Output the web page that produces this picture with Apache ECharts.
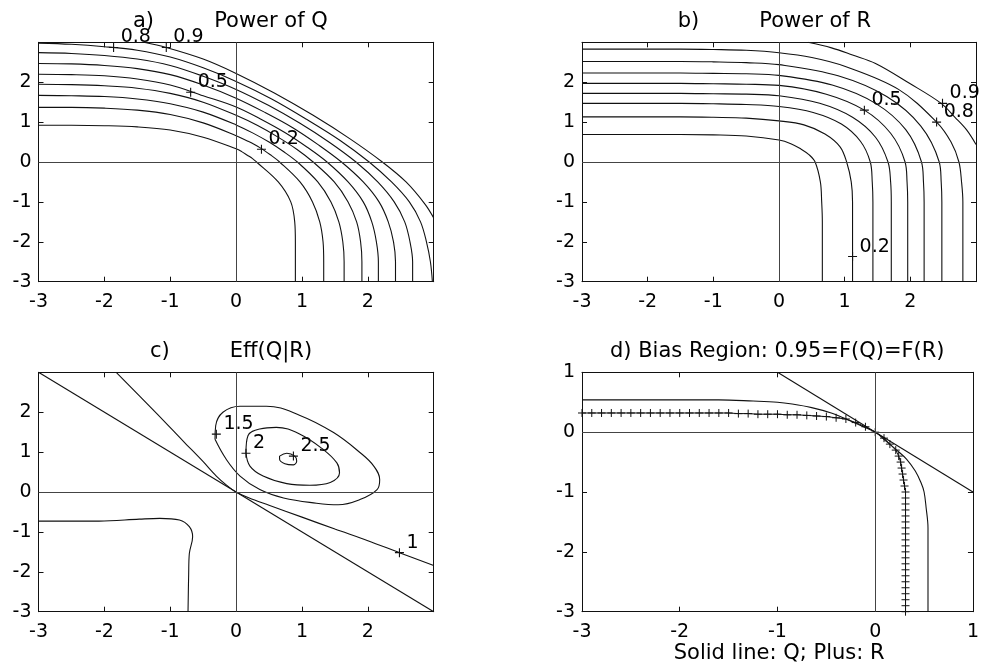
<!DOCTYPE html>
<html><head><meta charset="utf-8">
<script src="https://cdn.jsdelivr.net/npm/echarts@6/dist/echarts.min.js"></script>
<style>html,body{margin:0;padding:0;background:#fff}#c{width:982px;height:666px}</style>
</head><body><div id="c"></div>
<script>
// ---------- DATA ----------
// Panel a) Power of Q : contour lines 0.1 .. 0.9
const powerQ_01 = [[-3,0.92],[-2.5,0.92],[-2,0.91],[-1.5,0.88],[-1,0.80],[-0.5,0.62],[0,0.33],[0.085,0.26],[0.17,0.17],[0.25,0.085],[0.31,0],[0.64,-0.5],[0.83,-1],[0.89,-1.5],[0.90,-2],[0.90,-3]];
const powerQ_02 = [[-3,1.37],[-2.5,1.37],[-2,1.35],[-1.5,1.30],[-1,1.19],[-0.5,0.98],[0,0.66],[0.18,0.52],[0.36,0.36],[0.52,0.18],[0.66,0],[0.97,-0.5],[1.16,-1],[1.27,-1.5],[1.32,-2],[1.33,-2.5],[1.33,-3]];
const powerQ_03 = [[-3,1.67],[-2.5,1.66],[-2,1.64],[-1.5,1.58],[-1,1.46],[-0.5,1.25],[0,0.93],[0.25,0.73],[0.50,0.50],[0.73,0.25],[0.93,0],[1.24,-0.5],[1.44,-1],[1.56,-1.5],[1.62,-2],[1.64,-2.5],[1.64,-3]];
const powerQ_04 = [[-3,1.95],[-2.5,1.94],[-2,1.91],[-1.5,1.85],[-1,1.72],[-0.5,1.50],[0,1.17],[0.32,0.92],[0.63,0.63],[0.92,0.32],[1.17,0],[1.49,-0.5],[1.70,-1],[1.83,-1.5],[1.89,-2],[1.91,-2.5],[1.91,-3]];
const powerQ_05 = [[-3,2.20],[-2.5,2.19],[-2,2.16],[-1.5,2.08],[-1,1.93],[-0.5,1.66],[0,1.38],[0.37,1.08],[0.74,0.74],[1.08,0.37],[1.38,0],[1.70,-0.5],[1.93,-1],[2.06,-1.5],[2.13,-2],[2.16,-2.5],[2.16,-3]];
const powerQ_06 = [[-3,2.47],[-2.5,2.46],[-2,2.42],[-1.5,2.34],[-1,2.19],[-0.5,1.93],[0,1.60],[0.43,1.25],[0.86,0.86],[1.25,0.43],[1.60,0],[1.93,-0.5],[2.17,-1],[2.31,-1.5],[2.39,-2],[2.42,-2.5],[2.42,-3]];
const powerQ_07 = [[-3,2.74],[-2.5,2.72],[-2,2.67],[-1.5,2.58],[-1,2.42],[-0.5,2.15],[0,1.82],[0.49,1.42],[0.97,0.97],[1.42,0.49],[1.82,0],[2.15,-0.5],[2.40,-1],[2.56,-1.5],[2.64,-2],[2.68,-2.5],[2.68,-3]];
const powerQ_08 = [[-3,2.98],[-2.5,2.95],[-2,2.89],[-1.5,2.80],[-1,2.63],[-0.5,2.36],[0,2.02],[0.54,1.58],[1.07,1.07],[1.58,0.54],[2.02,0],[2.36,-0.5],[2.63,-1],[2.80,-1.5],[2.89,-2],[2.95,-2.5],[2.98,-3]];
const powerQ_09 = [[-1.40,3.0],[-1.06,2.87],[-0.5,2.58],[0,2.22],[0.58,1.73],[1.17,1.17],[1.73,0.58],[2.22,0],[2.58,-0.5],[2.87,-1.06],[3.0,-1.40]];
const powerQ_labels = [[0.385,0.32,'0.2'],[-0.69,1.75,'0.5'],[-1.86,2.87,'0.8'],[-1.06,2.87,'0.9']];

// Panel b) Power of R : contour lines 0.1 .. 0.9
const powerR_01 = [[-3,0.69],[-1.5,0.69],[-1,0.68],[-0.5,0.65],[0,0.55],[0.18,0.46],[0.33,0.33],[0.46,0.18],[0.55,0],[0.63,-0.5],[0.65,-1],[0.66,-1.5],[0.66,-3]];
const powerR_02 = [[-3,1.13],[-1.5,1.13],[-1,1.12],[-0.5,1.10],[0,1.03],[0.38,0.93],[0.70,0.70],[0.93,0.38],[1.03,0],[1.10,-0.5],[1.12,-1],[1.12,-1.5],[1.12,-3]];
const powerR_03 = [[-3,1.47],[-1.5,1.47],[-1,1.46],[-0.5,1.44],[0,1.39],[0.52,1.24],[0.95,0.95],[1.24,0.52],[1.39,0],[1.42,-0.5],[1.43,-1],[1.43,-3]];
const powerR_04 = [[-3,1.72],[-1.5,1.72],[-1,1.71],[-0.5,1.70],[0,1.66],[0.62,1.47],[1.12,1.12],[1.47,0.62],[1.66,0],[1.70,-0.5],[1.71,-1],[1.71,-3]];
const powerR_05 = [[-3,1.97],[-1.5,1.97],[-1,1.96],[-0.5,1.95],[0,1.92],[0.72,1.70],[1.30,1.30],[1.70,0.72],[1.92,0],[1.95,-0.5],[1.96,-1],[1.96,-3]];
const powerR_06 = [[-3,2.23],[-1.5,2.23],[-1,2.22],[-0.5,2.21],[0,2.17],[0.81,1.93],[1.47,1.47],[1.93,0.81],[2.17,0],[2.20,-0.5],[2.21,-1],[2.21,-3]];
const powerR_07 = [[-3,2.52],[-1.5,2.52],[-1,2.51],[-0.5,2.49],[0,2.44],[0.90,2.16],[1.64,1.64],[2.16,0.90],[2.44,0],[2.47,-0.5],[2.48,-1],[2.48,-3]];
const powerR_08 = [[-3,2.83],[-1.5,2.83],[-1,2.82],[-0.5,2.80],[0,2.74],[0.5,2.62],[1.00,2.40],[1.82,1.82],[2.40,1.00],[2.62,0.5],[2.74,0],[2.78,-0.5],[2.80,-1],[2.80,-3]];
const powerR_09 = [[0.44,3.0],[0.8,2.86],[1.12,2.68],[1.47,2.47],[1.98,1.98],[2.47,1.47],[2.68,1.12],[2.86,0.8],[3.0,0.44]];
const powerR_labels = [[1.12,-2.37,'0.2'],[1.30,1.30,'0.5'],[2.40,1.00,'0.8'],[2.49,1.47,'0.9']];

// Panel c) Eff(Q|R)
const eff_diagonal = [[-3,3],[3,-3]];
const eff_level1 = [[-1.82,3.0],[-1.2,1.96],[-0.8,1.27],[-0.5,0.76],[-0.3,0.40],[-0.15,0.18],[0,0],[0.2,-0.15],[0.5,-0.33],[1.0,-0.63],[1.5,-0.93],[2.0,-1.22],[2.48,-1.52],[3.0,-1.84]];
const eff_level1_corner = [[-3,-0.73],[-2.08,-0.73],[-1.47,-0.68],[-1.16,-0.66],[-0.86,-0.70],[-0.71,-0.87],[-0.66,-1.12],[-0.71,-1.54],[-0.72,-2.05],[-0.73,-3.0]];
const eff_level15 = [[-0.32,1.32],[-0.15,0.82],[0.06,0.40],[0.36,0.06],[0.72,-0.15],[1.22,-0.28],[1.55,-0.32],[1.88,-0.19],[2.14,0.06],[2.18,0.31],[2.09,0.65],[1.88,0.99],[1.48,1.49],[0.97,1.92],[0.46,2.15],[0.06,2.15],[-0.20,2.0],[-0.31,1.66],[-0.32,1.32]];
const eff_level2 = [[0.15,0.99],[0.18,1.41],[0.36,1.58],[0.61,1.62],[0.97,1.45],[1.32,1.07],[1.53,0.73],[1.57,0.48],[1.43,0.24],[1.12,0.17],[0.77,0.21],[0.41,0.40],[0.21,0.65],[0.15,0.99]];
const eff_level25 = [[0.66,0.90],[0.77,0.97],[0.89,0.90],[0.92,0.78],[0.87,0.68],[0.74,0.71],[0.66,0.82],[0.66,0.90]];
const eff_labels = [[-0.30,1.45,'1.5'],[0.15,0.97,'2'],[0.87,0.90,'2.5'],[2.48,-1.52,'1']];

// Panel d) Bias region
const bias_diagonal = [[-1,1],[1,-1]];
const bias_Q = [[-3,0.54],[-2,0.54],[-1.6,0.54],[-1.25,0.52],[-1.0,0.50],[-0.85,0.47],[-0.65,0.41],[-0.45,0.32],[-0.3,0.22],[-0.15,0.11],[0,0],[0.11,-0.15],[0.22,-0.3],[0.32,-0.45],[0.41,-0.65],[0.47,-0.85],[0.50,-1.0],[0.52,-1.25],[0.54,-1.6],[0.54,-2],[0.54,-3]];
const bias_R = [[-3,0.32],[-2.9,0.32],[-2.8,0.32],[-2.7,0.32],[-2.6,0.32],[-2.5,0.32],[-2.4,0.32],[-2.3,0.32],[-2.2,0.32],[-2.1,0.32],[-2.0,0.32],[-1.9,0.32],[-1.8,0.32],[-1.7,0.32],[-1.6,0.32],[-1.5,0.32],[-1.4,0.31],[-1.3,0.31],[-1.2,0.30],[-1.1,0.30],[-1.0,0.30],[-0.9,0.29],[-0.8,0.29],[-0.7,0.28],[-0.6,0.27],[-0.5,0.26],[-0.4,0.24],[-0.3,0.22],[-0.2,0.16],[-0.1,0.09],[0,0],[0.09,-0.1],[0.15,-0.2],[0.21,-0.3],[0.24,-0.4],[0.26,-0.5],[0.27,-0.6],[0.28,-0.7],[0.29,-0.8],[0.30,-0.9],[0.31,-1.0],[0.31,-1.1],[0.31,-1.2],[0.31,-1.3],[0.31,-1.4],[0.31,-1.5],[0.31,-1.6],[0.31,-1.7],[0.31,-1.8],[0.31,-1.9],[0.31,-2.0],[0.31,-2.1],[0.31,-2.2],[0.31,-2.3],[0.31,-2.4],[0.31,-2.5],[0.31,-2.6],[0.31,-2.7],[0.31,-2.8],[0.31,-2.9],[0.31,-3.0]];

// Axis ranges and titles
const rangeABC = [-3, 3];
const rangeD = [-3, 1];
const titles = ['a)         Power of Q', 'b)         Power of R', 'c)         Eff(Q|R)', 'd) Bias Region: 0.95=F(Q)=F(R)'];
const xLabelD = 'Solid line: Q; Plus: R';

// ---------- CHART ----------
const INK = '#111111';
const TEXT = '#000000';
const FONT = 'DejaVu Sans';
const PLUS = 'path://M5,0L5,10M0,5L10,5';
const grids = [
  {left: 38.5, top: 42.3, width: 395.2, height: 239.4},
  {left: 582, top: 42.3, width: 394, height: 239.4},
  {left: 38.5, top: 372.3, width: 395.2, height: 239.4},
  {left: 582, top: 372.3, width: 394, height: 239.4}
];
const ranges = [rangeABC, rangeABC, rangeABC, rangeD];
const hideMax = [true, true, true, false];

const xAxes = [], yAxes = [];
grids.forEach((g, i) => {
  const r = ranges[i];
  const common = {type: 'value', gridIndex: i, min: r[0], max: r[1], interval: 1,
    splitLine: {show: false},
    axisLine: {show: true, onZero: false, lineStyle: {color: INK, width: 1}},
    axisTick: {show: true, inside: true, length: 5, lineStyle: {color: INK, width: 1}}};
  xAxes.push(Object.assign({}, common, {position: 'bottom',
    axisLabel: {show: true, margin: 11, fontFamily: FONT, fontSize: 19, color: TEXT, showMaxLabel: !hideMax[i], showMinLabel: true}}));
  xAxes.push(Object.assign({}, common, {position: 'top', axisLabel: {show: false}}));
  yAxes.push(Object.assign({}, common, {position: 'left',
    axisLabel: {show: true, margin: 7, fontFamily: FONT, fontSize: 19, color: TEXT, showMaxLabel: !hideMax[i], showMinLabel: true}}));
  yAxes.push(Object.assign({}, common, {position: 'right', axisLabel: {show: false}}));
});

const series = [];
function curve(gi, data, smooth) {
  series.push({type: 'line', xAxisIndex: 2 * gi, yAxisIndex: 2 * gi, data: data,
    showSymbol: false, smooth: smooth, silent: true, animation: false, clip: true,
    lineStyle: {color: INK, width: 1.1}});
}
function zeroLines(gi) {
  series.push({type: 'line', xAxisIndex: 2 * gi, yAxisIndex: 2 * gi, data: [], silent: true, animation: false,
    markLine: {symbol: 'none', silent: true, animation: false, label: {show: false},
      lineStyle: {color: '#444', width: 1, type: 'solid'},
      data: [{xAxis: 0}, {yAxis: 0}]}});
}
function labels(gi, arr) {
  series.push({type: 'scatter', xAxisIndex: 2 * gi, yAxisIndex: 2 * gi, silent: true, animation: false,
    data: arr.map(p => ({value: [p[0], p[1]], name: p[2]})),
    symbol: PLUS, symbolSize: 9,
    itemStyle: {color: INK, borderColor: INK, borderWidth: 1.1, opacity: 1},
    label: {show: true, formatter: '{b}', position: 'right', distance: 2, offset: [0, -10],
      fontFamily: FONT, fontSize: 19, color: TEXT, opacity: 1}});
}

// a
zeroLines(0);
[powerQ_01, powerQ_02, powerQ_03, powerQ_04, powerQ_05, powerQ_06, powerQ_07, powerQ_08, powerQ_09].forEach(d => curve(0, d, 0.35));
labels(0, powerQ_labels);
// b
zeroLines(1);
[powerR_01, powerR_02, powerR_03, powerR_04, powerR_05, powerR_06, powerR_07, powerR_08, powerR_09].forEach(d => curve(1, d, 0.35));
labels(1, powerR_labels);
// c
zeroLines(2);
curve(2, eff_diagonal, false);
curve(2, eff_level1, 0.3);
curve(2, eff_level1_corner, 0.35);
curve(2, eff_level15, 0.4);
curve(2, eff_level2, 0.4);
curve(2, eff_level25, 0.4);
labels(2, eff_labels);
// d
zeroLines(3);
curve(3, bias_diagonal, false);
curve(3, bias_Q, 0.35);
series.push({type: 'line', xAxisIndex: 6, yAxisIndex: 6, data: bias_R, silent: true, animation: false, clip: false,
  showSymbol: true, showAllSymbol: true, symbol: PLUS, symbolSize: 8,
  itemStyle: {color: INK, borderColor: INK, borderWidth: 1},
  lineStyle: {color: INK, width: 1}});

function txt(x, y, s) {
  return {type: 'text', x: x, y: y, silent: true,
    style: {text: s, font: '21px "DejaVu Sans"', fontFamily: FONT, fontSize: 21, fill: TEXT,
      align: 'left', verticalAlign: 'middle', textAlign: 'left', textVerticalAlign: 'middle'}};
}

const chart = echarts.init(document.getElementById('c'), null, {renderer: 'canvas'});
chart.setOption({
  backgroundColor: '#ffffff',
  animation: false,
  grid: grids.map(g => Object.assign({containLabel: false}, g)),
  xAxis: xAxes,
  yAxis: yAxes,
  series: series,
  graphic: [
    txt(133, 21.7, titles[0]),
    txt(677.7, 21.7, titles[1]),
    txt(150, 351.7, titles[2]),
    txt(610, 351.7, titles[3]),
    txt(673.7, 653.3, xLabelD)
  ]
});
</script>
</body></html>
